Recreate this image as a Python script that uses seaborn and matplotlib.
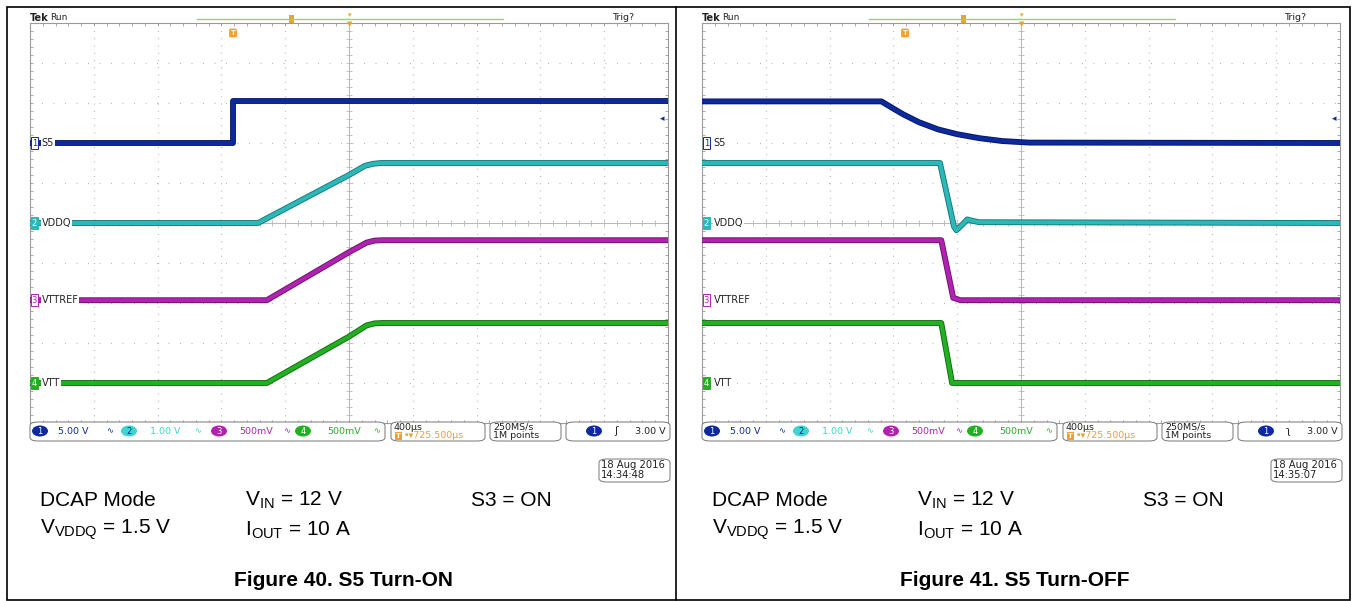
import matplotlib.pyplot as plt
import matplotlib.patheffects as pe
from matplotlib.patches import FancyBboxPatch, Rectangle, Ellipse
from matplotlib.lines import Line2D
import numpy as np
import pandas as pd
import seaborn as sns

W, H = 1353, 601

# scope channel settings (V/div and on-screen ground position in divisions)
channels = ["S5", "VDDQ", "VTTREF", "VTT"]
ch_scale = [5.0, 1.0, 0.5, 0.5]
ch_offset = [2.0, 0.0, -1.93, -4.0]
ch_color = ["#0c2a9e", "#2cb8b8", "#b022b0", "#22b022"]
ch_dark = ["#061560", "#137878", "#6e0f6e", "#0f6a0f"]

# Figure 40 - S5 turn-on (time in us relative to screen centre, volts)
on_s5_t = [-2000, -730, -730, 2000]
on_s5_v = [0.0, 0.0, 5.2, 5.2]
on_vddq_t = [-2000, -570, 0, 100, 150, 200, 2000]
on_vddq_v = [0.0, 0.0, 1.2, 1.43, 1.48, 1.5, 1.5]
on_vttref_t = [-2000, -515, 0, 110, 160, 210, 2000]
on_vttref_v = [0.0, 0.0, 0.6, 0.72, 0.745, 0.75, 0.75]
on_vtt_t = [-2000, -515, 0, 110, 160, 210, 2000]
on_vtt_v = [0.0, 0.0, 0.58, 0.72, 0.745, 0.75, 0.75]

# Figure 41 - S5 turn-off
off_s5_t = [-2000, -875, -800, -740, -640, -520, -400, -260, -120, 50, 2000]
off_s5_v = [5.2, 5.2, 4.3, 3.6, 2.6, 1.7, 1.1, 0.6, 0.25, 0.05, 0.0]
off_vddq_t = [-2000, -508, -420, -405, -370, -337, -300, -262, 2000]
off_vddq_v = [1.5, 1.5, -0.09, -0.18, -0.05, 0.09, 0.05, 0.02, 0.0]
off_vttref_t = [-2000, -500, -425, -380, 2000]
off_vttref_v = [0.75, 0.75, 0.03, 0.0, 0.0]
off_vtt_t = [-2000, -500, -432, 2000]
off_vtt_v = [0.75, 0.75, 0.0, 0.0]

panels = [
    dict(x0=0, fig="Figure 40. S5 Turn-ON", slope="ʃ", date="18 Aug 2016\n14:34:48",
         traces=[(on_s5_t, on_s5_v), (on_vddq_t, on_vddq_v),
                 (on_vttref_t, on_vttref_v), (on_vtt_t, on_vtt_v)]),
    dict(x0=672, fig="Figure 41. S5 Turn-OFF", slope="ʅ", date="18 Aug 2016\n14:35:07",
         traces=[(off_s5_t, off_s5_v), (off_vddq_t, off_vddq_v),
                 (off_vttref_t, off_vttref_v), (off_vtt_t, off_vtt_v)]),
]

status_names = ["5.00 V", "1.00 V", "500mV", "500mV"]


def fx(x):
    return x / W


def fy(y):
    return 1 - y / H


def main():
    sns.set_theme(style="white")
    plt.rcParams["font.family"] = ["DejaVu Sans"]
    plt.rcParams["mathtext.fontset"] = "custom"
    plt.rcParams["mathtext.rm"] = "Liberation Sans"

    fig = plt.figure(figsize=(W / 100, H / 100), dpi=100)
    fig.patch.set_facecolor("white")

    # outer frame and divider
    fig.add_artist(Rectangle((fx(7), fy(600)), fx(1350 - 7), 593 / H, fill=False,
                             ec="black", lw=1.2, transform=fig.transFigure))
    fig.add_artist(Line2D([fx(676), fx(676)], [fy(7), fy(600)], color="black", lw=1.2,
                          transform=fig.transFigure))

    grid_c = "#b8b8b8"
    for p in panels:
        x0 = p["x0"]
        ax = fig.add_axes([fx(30 + x0), fy(423), 638 / W, 400 / H])
        ax.set_xlim(-2000, 2000)
        ax.set_ylim(-5, 5)
        ax.set_facecolor("white")
        for s in ax.spines.values():
            s.set_color("#9a9a9a")
            s.set_linewidth(0.8)
        ax.set_xticks(np.arange(-2000, 2001, 80))
        ax.set_yticks(np.arange(-5, 5.01, 0.2))
        ax.tick_params(direction="in", length=2.5, width=0.6, color="#9a9a9a",
                       top=True, right=True, bottom=True, left=True,
                       labelbottom=False, labelleft=False)
        # dotted graticule
        for yy in range(-4, 5):
            if yy != 0:
                ax.axhline(yy, color=grid_c, lw=0.9, ls=(0, (0.8, 8.4)), zorder=0)
        for xx in range(-1600, 1601, 400):
            if xx != 0:
                ax.axvline(xx, color=grid_c, lw=0.9, ls=(0, (0.8, 5.0)), zorder=0)
        ax.axhline(0, color=grid_c, lw=0.7, zorder=0)
        ax.axvline(0, color=grid_c, lw=0.7, zorder=0)
        tx = np.arange(-2000, 2001, 80)
        ax.plot(tx, np.zeros_like(tx), ls="", marker="|", ms=4, mew=0.6, color=grid_c, zorder=0)
        ty = np.arange(-5, 5.01, 0.2)
        ax.plot(np.zeros_like(ty), ty, ls="", marker="_", ms=4, mew=0.6, color=grid_c, zorder=0)

        # traces
        for i, (t, v) in enumerate(p["traces"]):
            df = pd.DataFrame({"t": t, "div": [ch_offset[i] + vv / ch_scale[i] for vv in v]})
            sns.lineplot(data=df, x="t", y="div", ax=ax, sort=False, estimator=None,
                         color=ch_color[i], lw=2.9, zorder=3)
            ax.lines[-1].set_path_effects([pe.Stroke(linewidth=4.2, foreground=ch_dark[i]),
                                           pe.Normal()])
        ax.set_xlabel("")
        ax.set_ylabel("")

        # channel labels
        tr = ax.get_yaxis_transform()
        for i, name in enumerate(channels):
            yl = ch_offset[i]
            filled = i in (1, 3)
            ax.text(0.007, yl, str(i + 1), transform=tr, fontsize=6, ha="center", va="center",
                    color="white" if filled else ch_color[i], zorder=6, clip_on=False,
                    bbox=dict(boxstyle="square,pad=0.15",
                              fc=ch_color[i] if filled else "white", ec=ch_color[i], lw=0.7))
            ax.text(0.018, yl, name, transform=tr, fontsize=7, ha="left", va="center",
                    color="#222222", zorder=6, clip_on=False,
                    bbox=dict(boxstyle="square,pad=0.1", fc="white", ec="none"))
        # trigger level marker
        ax.text(0.995, ch_offset[0] + 3.0 / ch_scale[0], "◂", transform=tr, color=ch_color[0],
                fontsize=6.5, ha="right", va="center", zorder=6)

        # top annotations
        fig.text(fx(30 + x0), fy(18), "Tek", fontsize=7, fontweight="bold", color="#222222",
                 va="center")
        fig.text(fx(50 + x0), fy(18), "Run", fontsize=6.5, color="#222222", va="center")
        fig.text(fx(612 + x0), fy(18), "Trig?", fontsize=6.8, color="#222222", va="center")
        fig.add_artist(Line2D([fx(197 + x0), fx(503 + x0)], [fy(19), fy(19)], color="#8fd08f",
                              lw=1.0, transform=fig.transFigure))
        fig.add_artist(Rectangle((fx(289 + x0), fy(23)), 5 / W, 8 / H, fc="#f0a030", ec="none",
                                 transform=fig.transFigure))
        fig.text(fx(350 + x0), fy(15), "▾", fontsize=5, color="#f0a030", ha="center", va="center")
        fig.text(fx(350 + x0), fy(24), "▼", fontsize=5, color="#f0a030", ha="center", va="center")
        fig.text(fx(233 + x0), fy(33), "T", fontsize=5, color="white", ha="center", va="center",
                 fontweight="bold",
                 bbox=dict(boxstyle="round,pad=0.2", fc="#f0a030", ec="none"))

        # status bar boxes
        for bx0, bx1, by0, by1 in [(30, 385, 422, 441), (391, 485, 422, 441),
                                   (490, 561, 422, 441), (566, 670, 422, 441),
                                   (599, 670, 459, 482)]:
            fig.add_artist(FancyBboxPatch((fx(bx0 + x0), fy(by1)), (bx1 - bx0) / W,
                                          (by1 - by0) / H,
                                          boxstyle="round,pad=0,rounding_size=0.006",
                                          fc="white", ec="#777777", lw=0.7,
                                          transform=fig.transFigure))
        badge_x = [40, 129, 219, 303]
        text_x = [58, 150, 239, 327]
        wave_x = [110, 198, 287, 377]
        for i in range(4):
            fig.add_artist(Ellipse((fx(badge_x[i] + x0), fy(431)), 16 / W, 11 / H,
                                   fc=ch_color[i] if i != 1 else "#3fd3d3", ec="none",
                                   transform=fig.transFigure))
            fig.text(fx(badge_x[i] + x0), fy(431), str(i + 1), fontsize=6, ha="center",
                     va="center", color="#0a2a80" if i == 1 else "white")
            fig.text(fx(text_x[i] + x0), fy(431), status_names[i], fontsize=6.8, ha="left",
                     va="center", color=ch_color[i] if i != 1 else "#40d0d0")
            fig.text(fx(wave_x[i] + x0), fy(431), "∿", fontsize=6, ha="center", va="center",
                     color=ch_color[i] if i != 1 else "#40d0d0")
        fig.text(fx(394 + x0), fy(427), "400µs", fontsize=6.8, va="center", color="#222222")
        fig.text(fx(396 + x0), fy(436), "T", fontsize=5, va="center", color="white",
                 fontweight="bold", bbox=dict(boxstyle="square,pad=0.1", fc="#f0a030", ec="none"))
        fig.text(fx(404 + x0), fy(436), "•▾725.500µs", fontsize=6.8, va="center",
                 color="#f0a030")
        fig.text(fx(493 + x0), fy(427), "250MS/s", fontsize=6.8, va="center", color="#222222")
        fig.text(fx(493 + x0), fy(436), "1M points", fontsize=6.8, va="center", color="#222222")
        fig.add_artist(Ellipse((fx(594 + x0), fy(431)), 16 / W, 11 / H, fc=ch_color[0],
                               ec="none", transform=fig.transFigure))
        fig.text(fx(594 + x0), fy(431), "1", fontsize=6, ha="center", va="center", color="white")
        fig.text(fx(616 + x0), fy(431), p["slope"], fontsize=7.5, ha="center", va="center",
                 color="#222222")
        fig.text(fx(666 + x0), fy(431), "3.00 V", fontsize=6.8, ha="right", va="center",
                 color="#222222")
        fig.text(fx(601 + x0), fy(470.5), p["date"], fontsize=7.2, va="center",
                 color="#222222", linespacing=1.0)

        # conditions
        cap = dict(fontsize=15, family="Liberation Sans", va="center", color="black")
        fig.text(fx(40 + x0), fy(500), "DCAP Mode", **cap)
        fig.text(fx(245 + x0), fy(500), r"V$_\mathregular{IN}$ = 12 V", **cap)
        fig.text(fx(471 + x0), fy(500), "S3 = ON", **cap)
        fig.text(fx(40 + x0), fy(530), r"V$_\mathregular{VDDQ}$ = 1.5 V", **cap)
        fig.text(fx(245 + x0), fy(530), r"I$_\mathregular{OUT}$ = 10 A", **cap)
        fig.text(fx(343 + x0), fy(580), p["fig"], fontsize=15, family="Liberation Sans",
                 fontweight="bold", ha="center", va="center", color="black")

    plt.savefig("out.png", dpi=100)
    plt.close()


if __name__ == '__main__':
    main()
